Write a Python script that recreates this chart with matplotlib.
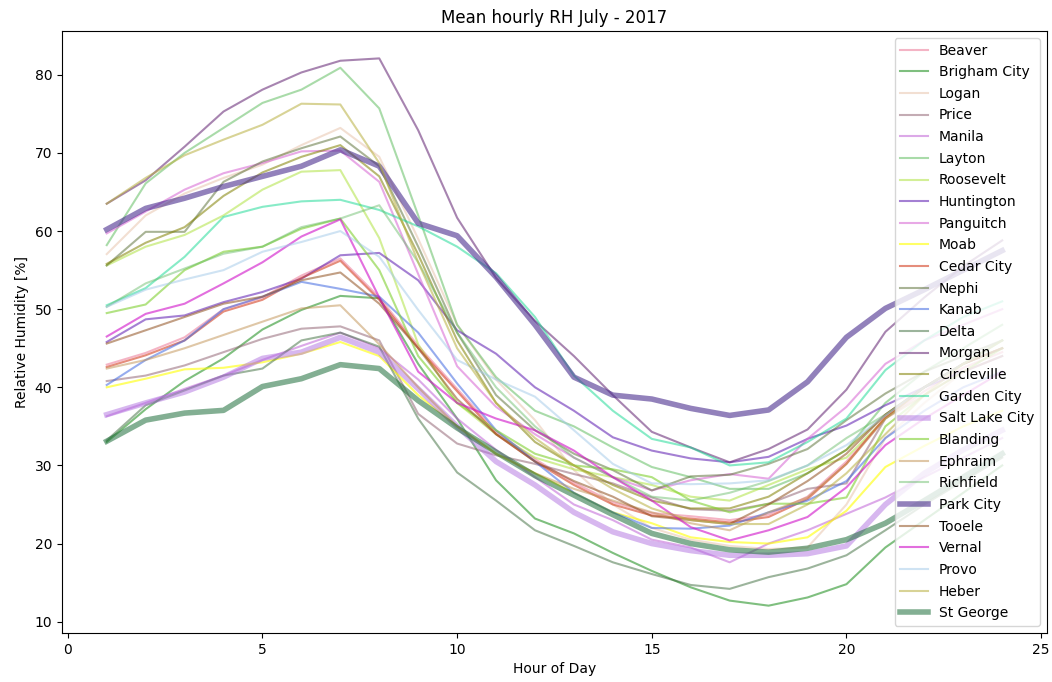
import numpy as np
import matplotlib
matplotlib.use('Agg')
import matplotlib.pyplot as plt

hours = np.arange(1, 25)

beaver = [42.9, 44.4, 46.4, 50.0, 51.5, 54.3, 56.5, 51.5, 45.3, 39.8, 34.3, 30.8,
          27.8, 25.3, 23.9, 23.5, 23.0, 23.7, 26.0, 30.5, 36.0, 39.5, 42.5, 44.5]
brigham = [33.0, 37.2, 40.8, 43.7, 47.4, 49.9, 51.7, 51.4, 43.0, 36.0, 28.1, 23.2,
           21.3, 18.8, 16.5, 14.4, 12.7, 12.05, 13.1, 14.8, 19.5, 23.0, 26.5, 30.0]
logan = [57.05, 62.0, 64.8, 66.8, 68.5, 71.0, 73.2, 69.5, 59.0, 48.0, 41.0, 35.8,
         29.4, 25.0, 22.0, 20.5, 19.7, 19.3, 19.5, 25.0, 33.5, 38.0, 42.0, 45.0]
price = [40.8, 41.5, 42.8, 44.5, 46.2, 47.5, 47.8, 46.0, 36.6, 32.8, 31.3, 30.2,
         28.9, 27.7, 25.9, 24.4, 24.2, 25.1, 27.0, 27.7, 36.0, 40.0, 43.0, 45.0]
manila = [36.3, 38.0, 39.8, 41.5, 43.5, 45.3, 47.0, 45.0, 41.0, 36.0, 32.0, 28.5,
          25.0, 23.0, 20.5, 19.5, 17.6, 20.0, 21.7, 23.8, 25.9, 28.5, 31.0, 33.5]
layton = [58.2, 66.1, 70.0, 73.2, 76.4, 78.1, 80.9, 75.7, 62.0, 48.0, 41.3, 37.0,
          35.0, 32.3, 29.8, 28.5, 27.0, 27.0, 29.0, 32.0, 38.0, 42.0, 45.0, 48.0]
roosevelt = [55.6, 58.0, 59.5, 62.0, 65.3, 67.6, 67.8, 59.1, 45.5, 38.0, 34.0, 31.0,
             29.5, 28.5, 27.5, 26.0, 25.5, 27.5, 29.5, 31.0, 36.0, 40.0, 43.0, 46.0]
huntington = [45.8, 48.7, 49.2, 50.9, 52.2, 53.9, 56.9, 57.2, 53.7, 47.3, 44.3, 40.0,
              37.0, 33.6, 31.9, 30.9, 30.4, 31.1, 33.4, 35.1, 37.7, 40.0, 42.0, 44.0]
panguitch = [59.7, 62.5, 65.3, 67.4, 68.7, 70.2, 70.3, 66.3, 54.5, 42.7, 37.5, 34.0,
             31.0, 28.5, 26.8, 28.1, 28.9, 28.3, 33.4, 37.5, 43.0, 46.0, 48.0, 50.0]
moab = [40.0, 41.1, 42.3, 42.5, 43.2, 44.3, 45.8, 44.0, 39.0, 35.0, 31.5, 29.0,
        26.5, 24.0, 22.6, 20.8, 20.2, 20.0, 20.8, 24.2, 29.8, 32.5, 35.0, 37.0]
cedar = [42.6, 44.1, 46.0, 49.7, 51.2, 54.0, 56.2, 51.2, 45.0, 39.5, 34.0, 30.5,
         27.5, 25.0, 23.6, 23.2, 22.7, 23.4, 25.7, 30.2, 36.2, 40.0, 43.0, 45.0]
nephi = [55.6, 59.9, 59.9, 66.3, 68.9, 70.6, 72.1, 68.3, 58.0, 47.0, 39.0, 34.5,
         31.5, 29.4, 26.8, 28.6, 28.8, 30.2, 32.1, 35.8, 39.2, 42.0, 44.0, 46.0]
kanab = [40.3, 43.5, 46.0, 50.0, 51.6, 53.5, 52.6, 51.6, 47.0, 40.5, 34.5, 30.5,
         26.5, 24.0, 22.0, 21.9, 22.3, 24.0, 25.5, 28.0, 33.5, 37.0, 40.0, 42.0]
delta = [33.2, 37.7, 39.6, 41.5, 42.4, 46.0, 47.0, 45.2, 36.0, 29.1, 25.5, 21.7,
         19.7, 17.6, 16.1, 14.7, 14.2, 15.7, 16.8, 18.5, 21.7, 25.0, 28.0, 31.0]
morgan = [63.5, 66.5, 70.8, 75.3, 78.1, 80.3, 81.8, 82.1, 72.9, 61.7, 54.0, 48.5,
          44.0, 39.0, 34.3, 32.3, 30.4, 32.1, 34.6, 39.7, 47.1, 51.5, 55.5, 58.8]
circleville = [55.8, 58.5, 60.5, 64.5, 67.5, 69.5, 71.0, 67.0, 57.0, 46.0, 38.0, 33.0,
               30.0, 27.5, 25.5, 24.5, 24.5, 26.0, 29.0, 32.0, 36.5, 40.0, 43.0, 45.0]
garden = [50.5, 52.7, 56.7, 61.8, 63.1, 63.8, 64.0, 62.7, 60.6, 58.0, 54.6, 49.0,
          41.5, 37.0, 33.4, 32.3, 30.0, 30.4, 33.0, 36.0, 42.2, 46.0, 49.0, 51.0]
slc = [36.5, 38.0, 39.4, 41.3, 43.7, 44.5, 46.4, 44.5, 39.8, 35.0, 30.5, 27.5,
       24.0, 21.5, 20.0, 19.1, 18.5, 18.5, 18.7, 19.7, 25.0, 29.0, 32.0, 34.5]
blanding = [49.5, 50.6, 55.0, 57.35, 58.0, 60.3, 61.6, 55.0, 44.0, 38.0, 34.5, 31.5,
            30.0, 29.5, 28.5, 25.5, 24.0, 25.1, 25.1, 25.9, 35.0, 39.0, 42.0, 45.0]
ephraim = [42.4, 43.5, 45.0, 46.7, 48.4, 50.1, 50.5, 45.5, 40.0, 35.0, 31.5, 29.0,
           27.0, 25.5, 24.0, 22.6, 21.7, 24.0, 25.9, 30.2, 36.0, 39.0, 42.0, 44.0]
richfield = [50.3, 53.3, 55.2, 57.1, 58.0, 60.5, 61.6, 63.3, 56.0, 47.0, 40.0, 35.0,
             31.0, 28.5, 26.0, 25.5, 26.5, 28.0, 30.0, 33.5, 36.5, 40.0, 43.0, 46.0]
park = [60.2, 62.9, 64.2, 65.7, 67.0, 68.3, 70.4, 68.3, 61.0, 59.4, 54.1, 48.0,
        41.3, 39.0, 38.5, 37.3, 36.4, 37.1, 40.7, 46.4, 50.1, 52.5, 55.0, 57.5]
tooele = [45.6, 47.3, 49.0, 50.7, 51.6, 53.7, 54.7, 50.7, 45.0, 38.5, 34.0, 30.5,
          28.0, 26.0, 23.5, 23.0, 22.5, 25.0, 28.0, 31.5, 36.5, 40.0, 43.0, 45.0]
vernal = [46.5, 49.4, 50.7, 53.3, 56.0, 59.3, 61.5, 51.5, 42.0, 38.0, 36.0, 34.5,
          31.9, 28.5, 25.5, 22.1, 20.4, 21.7, 23.4, 27.2, 32.6, 36.0, 39.0, 42.0]
provo = [50.3, 52.5, 53.8, 55.0, 57.35, 58.6, 60.0, 56.7, 49.9, 43.5, 41.0, 38.8,
         34.5, 30.2, 27.7, 27.6, 27.7, 28.1, 30.0, 32.6, 36.4, 40.0, 43.0, 46.0]
heber = [63.5, 66.8, 69.7, 71.7, 73.6, 76.3, 76.2, 68.7, 56.0, 45.0, 38.0, 33.5,
         30.0, 27.0, 24.5, 23.0, 22.5, 22.5, 25.0, 29.0, 34.0, 39.0, 43.0, 46.0]
stgeorge = [33.1, 35.8, 36.7, 37.05, 40.1, 41.1, 42.9, 42.4, 38.3, 34.8, 31.7, 28.7,
            26.2, 23.7, 21.3, 20.0, 19.2, 18.9, 19.4, 20.5, 22.6, 25.5, 28.5, 31.5]

# name, values, colour, alpha, linewidth
stations = [
    ('Beaver', beaver, '#e85a80', 0.45, 1.5),
    ('Brigham City', brigham, 'green', 0.5, 1.5),
    ('Logan', logan, '#e0b090', 0.4, 1.5),
    ('Price', price, '#8b5a6b', 0.5, 1.5),
    ('Manila', manila, 'mediumorchid', 0.5, 1.5),
    ('Layton', layton, '#55b855', 0.5, 1.5),
    ('Roosevelt', roosevelt, '#a8e030', 0.5, 1.5),
    ('Huntington', huntington, '#5a18b0', 0.55, 1.5),
    ('Panguitch', panguitch, 'orchid', 0.6, 1.5),
    ('Moab', moab, 'yellow', 0.6, 1.5),
    ('Cedar City', cedar, '#d03010', 0.55, 1.5),
    ('Nephi', nephi, 'darkolivegreen', 0.5, 1.5),
    ('Kanab', kanab, 'royalblue', 0.55, 1.5),
    ('Delta', delta, '#3a6a3a', 0.5, 1.5),
    ('Morgan', morgan, '#602070', 0.55, 1.5),
    ('Circleville', circleville, 'olive', 0.55, 1.5),
    ('Garden City', garden, '#10d890', 0.5, 1.5),
    ('Salt Lake City', slc, '#b070e0', 0.5, 4),
    ('Blanding', blanding, '#80d030', 0.6, 1.5),
    ('Ephraim', ephraim, '#c09050', 0.5, 1.5),
    ('Richfield', richfield, '#60b860', 0.45, 1.5),
    ('Park City', park, '#4a2e8e', 0.6, 4),
    ('Tooele', tooele, '#905020', 0.55, 1.5),
    ('Vernal', vernal, '#d010c8', 0.6, 1.5),
    ('Provo', provo, '#a0c8e8', 0.5, 1.5),
    ('Heber', heber, '#b8b040', 0.55, 1.5),
    ('St George', stgeorge, '#1e6e3a', 0.55, 4),
]

fig = plt.figure(figsize=(10.52, 6.82), dpi=100)
ax = fig.add_axes([0.0589, 0.0718, 0.9363, 0.8827])

for name, vals, col, a, lw in stations:
    ax.plot(hours, vals, color=col, alpha=a, linewidth=lw, label=name)

ax.set_title('Mean hourly RH July - 2017', fontsize=12)
ax.set_xlabel('Hour of Day')
ax.set_ylabel('Relative Humidity [%]')
ax.legend(loc='upper right', fontsize=10, labelspacing=0.55)

plt.savefig('out.png', dpi=100)
